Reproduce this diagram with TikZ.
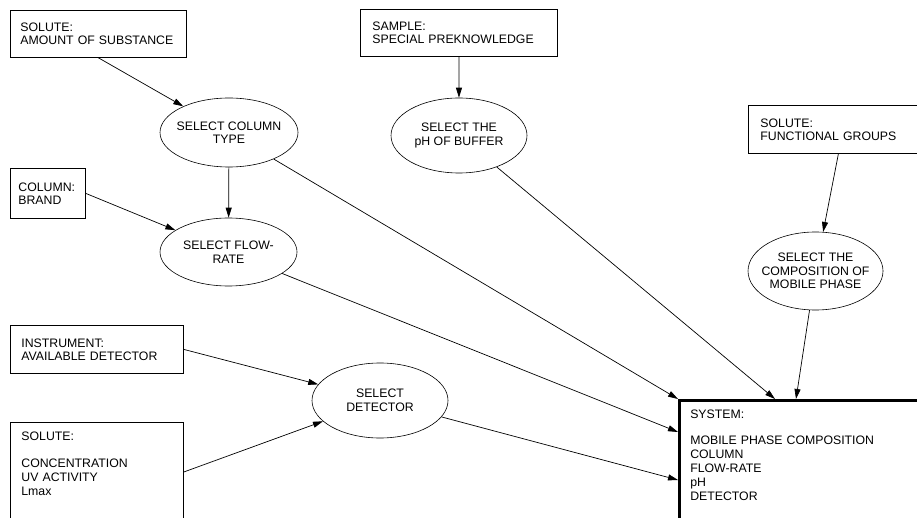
\documentclass[tikz,border=0pt]{standalone}
\usepackage{fontspec}
\setmainfont{Liberation Sans}
\usetikzlibrary{shapes.geometric}
\usetikzlibrary{arrows.meta}
\tikzset {
  >={Triangle[length=10pt, width=6pt]},
  % rectangular data boxes
  info/.style = {draw, line width=0.8pt, rectangle, anchor=north west, align=left,
    inner xsep=11pt, inner ysep=10pt,
    font={\fontsize{12.3}{13}\selectfont\hyphenpenalty 10000 \exhyphenpenalty 10000 }},
  % long lists, box runs off the page
  listbox/.style = {info, font={\fontsize{12.3}{14}\selectfont}},
  % selection steps
  task/.style = {draw, line width=0.6pt, ellipse, inner xsep=-12pt, inner ysep=0pt,
    align=center, font=\fontsize{12.3}{13.5}\selectfont},
  % resulting system
  result/.style = {listbox, line width=2.5pt},
  link/.style = {->, line width=0.7pt},
}

\begin{document}
\begin{tikzpicture}[x=1pt, y=-1pt]
  \useasboundingbox (0,0) rectangle (917,518);
  \clip (0,0) rectangle (917,518);

  \node[info, inner xsep=10pt, text width=156pt, minimum height=47pt] (amount) at (10,10) {SOLUTE:\\AMOUNT OF SUBSTANCE};
  \node[info, inner xsep=12pt, text width=173pt, minimum height=47pt] (sample) at (360,9) {SAMPLE:\\SPECIAL PREKNOWLEDGE};
  \node[info, inner xsep=12pt, text width=156pt, minimum height=48pt] (groups) at (748,105) {SOLUTE:\\FUNCTIONAL GROUPS};
  \node[info, inner xsep=8pt, text width=59pt, minimum height=50pt] (brand) at (10,168) {COLUMN:\\BRAND};
  \node[info, text width=151pt, minimum height=48pt] (instrument) at (10,325) {INSTRUMENT:\\AVAILABLE DETECTOR};
  \node[listbox, text width=151pt, text depth=110pt] (solute) at (10,422) {SOLUTE:\\[13pt]CONCENTRATION\\UV ACTIVITY\\Lmax};

  \node[task, minimum width=138pt, minimum height=69pt] (column) at (229,132.5) {SELECT COLUMN\\TYPE};
  \node[task, minimum width=136pt, minimum height=75pt] (buffer) at (459,135.5) {SELECT THE\\pH OF BUFFER};
  \node[task, minimum width=135pt, minimum height=78pt] (mobile) at (815.5,271) {SELECT THE\\COMPOSITION OF\\MOBILE PHASE};
  \node[task, minimum width=137pt, minimum height=68pt] (flow) at (228.5,252) {SELECT FLOW-\\RATE};
  \node[task, minimum width=136pt, minimum height=75pt] (detector) at (380,400.5) {SELECT\\DETECTOR};

  \node[result, text width=240pt, text depth=120pt] (system) at (678,399) {SYSTEM:\\[12pt]MOBILE PHASE COMPOSITION\\COLUMN\\FLOW-RATE\\pH\\DETECTOR};

  \draw [link] (amount.south) -- (column);
  \draw [link] (sample) -- (buffer);
  \draw [link] (groups.south) -- (mobile);
  \draw [link] (column) -- (flow);
  \draw [link] (brand.east) -- (flow);

  \draw [link] (instrument.east) -- (detector);
  \draw [link] ([yshift=-50pt]solute.north east) -- (detector);

  \draw [link] (column) -- (system.north west);
  \draw [link] (flow) -- ([yshift=-33pt]system.north west);
  \draw [link] (detector) -- ([yshift=-81pt]system.north west);
  \draw [link] (buffer) -- ([xshift=97pt]system.north west);
  \draw [link] (mobile) -- ([xshift=118pt]system.north west);
\end{tikzpicture}
\end{document}
